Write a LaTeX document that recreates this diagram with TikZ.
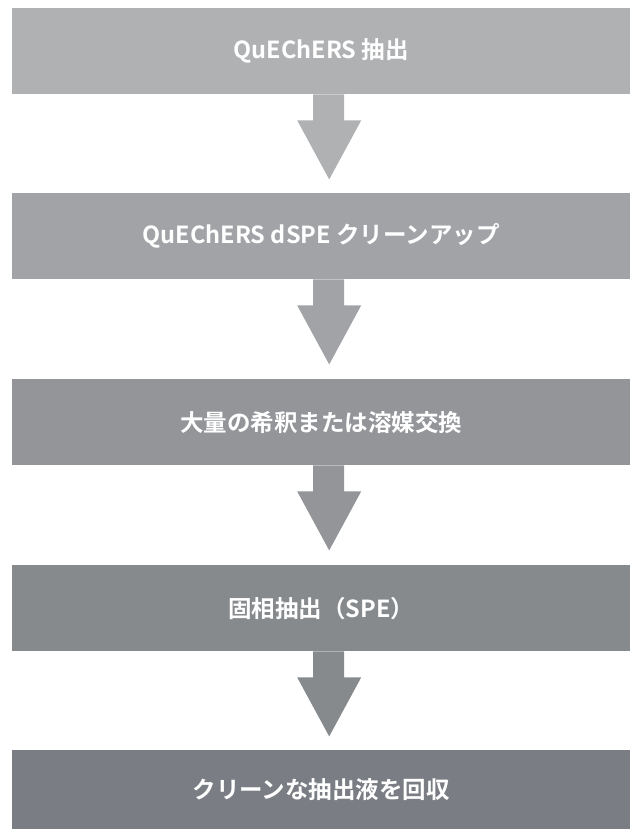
\documentclass[tikz,border=0pt]{standalone}
\usepackage{fontspec}
\newfontfamily\jpfont{Noto Sans CJK JP Bold}
\usetikzlibrary{calc}
\definecolor{cA}{HTML}{AFB1B3}
\definecolor{cB}{HTML}{A1A3A7}
\definecolor{cC}{HTML}{939599}
\definecolor{cD}{HTML}{878A8D}
\definecolor{cE}{HTML}{7A7D83}
\tikzset{
  stepbox/.style={fill=#1, draw=none, minimum width=618pt, minimum height=86pt,
    inner sep=0pt, anchor=north west, text=white,
    font=\jpfont\fontsize{23.5}{27}\selectfont},
  flowarrow/.style={fill=#1, draw=none}
}
\newcommand{\downarrowshape}[2]{%
  \fill[flowarrow=#2]
    ($(#1.south)+(-8pt,0)$) -- ($(#1.south)+(23pt,0)$) -- ($(#1.south)+(23pt,-26pt)$)
    -- ($(#1.south)+(40pt,-26pt)$) -- ($(#1.south)+(8pt,-85pt)$) -- ($(#1.south)+(-24pt,-26pt)$)
    -- ($(#1.south)+(-8pt,-26pt)$) -- cycle;}
\begin{document}
\begin{tikzpicture}[x=1pt,y=1pt]
\useasboundingbox (0,0) rectangle (630,-829);
\node[stepbox=cA] (b1) at (12,-8) {QuEChERS 抽出};
\node[stepbox=cB] (b2) at (12,-193) {QuEChERS dSPE クリーンアップ};
\node[stepbox=cC] (b3) at (12,-379) {大量の希釈または溶媒交換};
\node[stepbox=cD] (b4) at (12,-565) {固相抽出（SPE）};
\node[stepbox=cE, minimum height=79pt] (b5) at (12,-750) {クリーンな抽出液を回収};
\downarrowshape{b1}{cA}
\downarrowshape{b2}{cB}
\downarrowshape{b3}{cC}
\downarrowshape{b4}{cD}
\end{tikzpicture}
\end{document}
